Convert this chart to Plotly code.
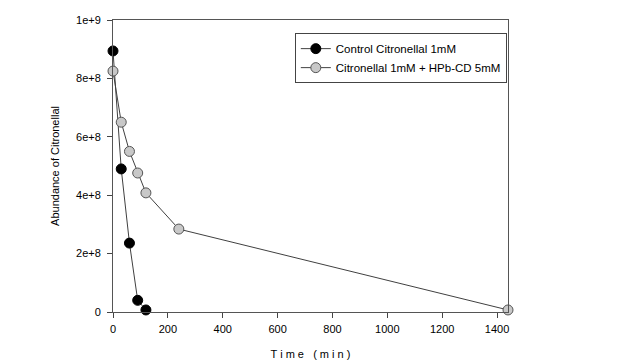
import plotly.graph_objects as go

time_control = [0, 30, 60, 90, 120]
abund_control = [8.94e8, 4.9e8, 2.36e8, 0.40e8, 0.07e8]
time_hpb = [0, 30, 60, 90, 120, 240, 1440]
abund_hpb = [8.25e8, 6.5e8, 5.5e8, 4.76e8, 4.08e8, 2.84e8, 0.07e8]
x_ticks = [0, 200, 400, 600, 800, 1000, 1200, 1400]
y_ticks = [0, 2e8, 4e8, 6e8, 8e8, 1e9]
y_tick_labels = ["0", "2e+8", "4e+8", "6e+8", "8e+8", "1e+9"]

fig = go.Figure()
fig.add_trace(go.Scatter(
    x=time_control, y=abund_control, mode="lines+markers",
    name="Control Citronellal 1mM",
    line=dict(color="#404040", width=1),
    marker=dict(size=10, color="black", line=dict(color="black", width=1)),
    cliponaxis=False,
))
fig.add_trace(go.Scatter(
    x=time_hpb, y=abund_hpb, mode="lines+markers",
    name="Citronellal 1mM + HPb-CD 5mM",
    line=dict(color="#404040", width=1),
    marker=dict(size=10, color="#c8c8c8", line=dict(color="#555555", width=1)),
    cliponaxis=False,
))

font = dict(family="Liberation Sans, Arial, sans-serif", size=11, color="black")
fig.update_layout(
    width=632, height=354,
    margin=dict(l=105, r=132, t=12, b=50, autoexpand=False),
    plot_bgcolor="white", paper_bgcolor="white",
    font=font,
    showlegend=True,
    legend=dict(
        x=0.997, y=0.955, xanchor="right", yanchor="top",
        bordercolor="#444444", borderwidth=1, bgcolor="white",
        font=dict(family="Liberation Sans, Arial, sans-serif", size=11.5, color="black"),
        tracegroupgap=0, itemwidth=30,
    ),
)
fig.update_xaxes(
    range=[0, 1440], tickvals=x_ticks, ticks="outside", ticklen=5,
    tickcolor="#444444", showline=True, linecolor="#555555", linewidth=1,
    mirror=True, showgrid=False, zeroline=False, automargin=False,
    ticklabelstandoff=2,
    title=dict(text="T i m e   ( m i n )", standoff=16, font=dict(size=11)),
)
fig.update_yaxes(
    range=[0, 1e9], tickvals=y_ticks, ticktext=y_tick_labels, ticks="outside",
    ticklen=5, tickcolor="#444444", showline=True, linecolor="#555555",
    linewidth=1, mirror=True, showgrid=False, zeroline=False, automargin=False,
    ticklabelstandoff=4,
    title=dict(text="Abundance of Citronellal", standoff=14, font=dict(size=11)),
)
fig.write_html("out.html")
